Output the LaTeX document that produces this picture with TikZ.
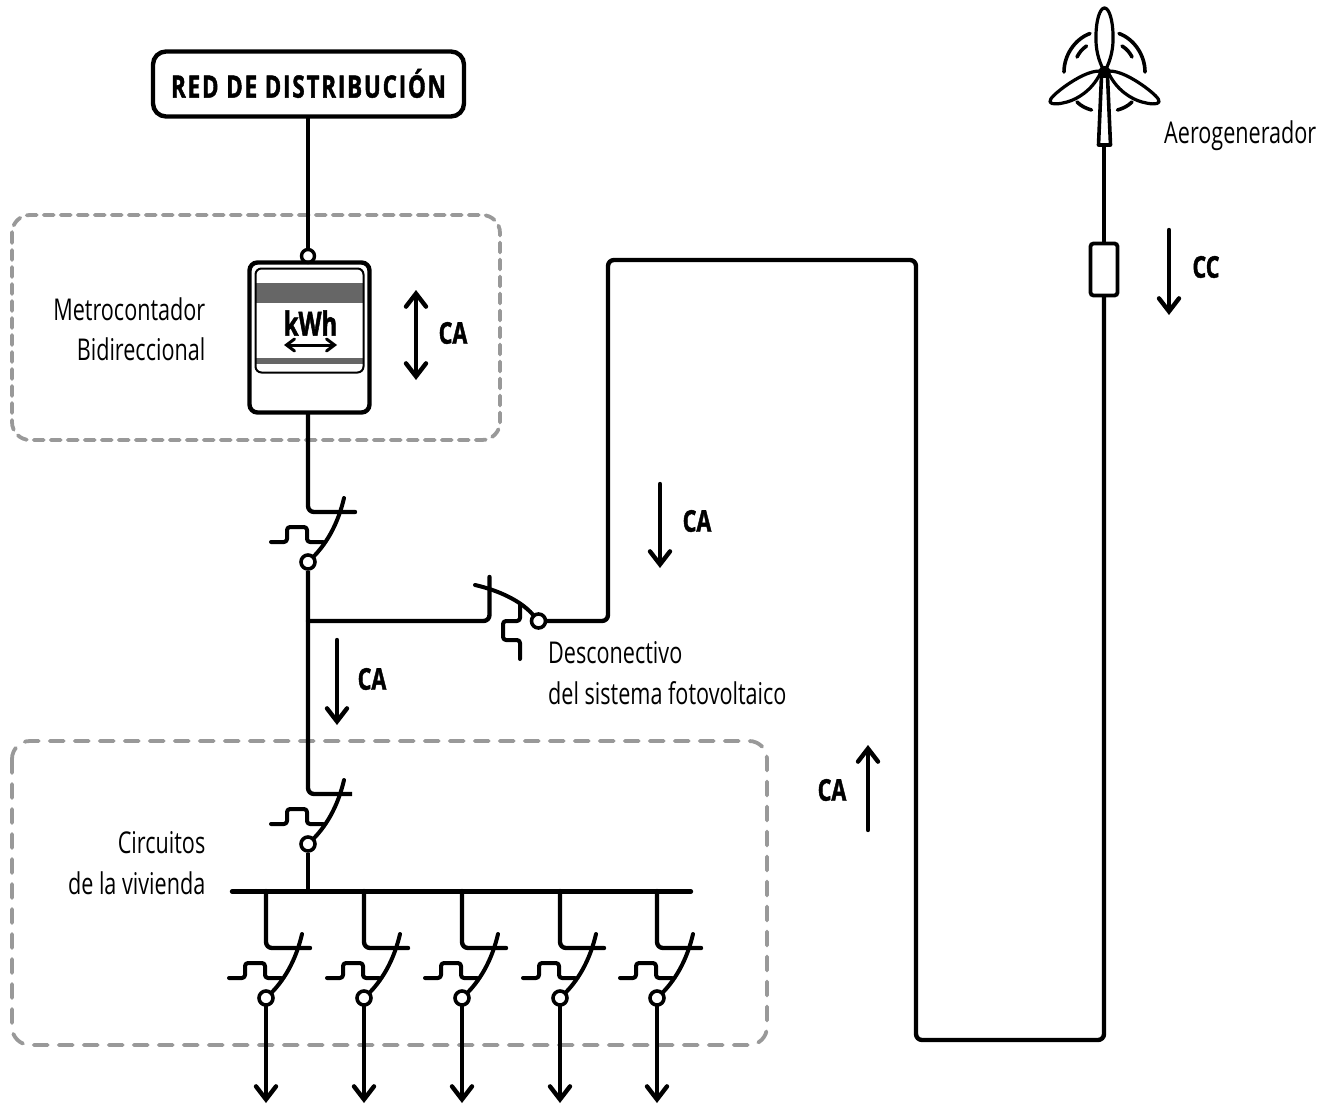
\documentclass[tikz,border=0pt]{standalone}
\usepackage{fontspec}
\setmainfont{Open Sans}[FakeStretch=0.72,BoldFeatures={FakeBold=1.4}]
\usetikzlibrary{arrows.meta}
\definecolor{dashgray}{HTML}{999999}
\definecolor{bandgray}{HTML}{666666}
\tikzset{
  wire/.style={line width=4.4pt,line join=round,line cap=round,rounded corners=6pt},
  arrowline/.style={line width=4.4pt,line cap=round,-{Straight Barb[length=13pt,width=20pt,line cap=round,line width=4.4pt]}},
  duoarrow/.style={line width=4.4pt,line cap=round,{Straight Barb[length=13pt,width=20pt,line cap=round,line width=4.4pt]}-{Straight Barb[length=13pt,width=20pt,line cap=round,line width=4.4pt]}},
  zonebox/.style={draw=dashgray,line width=3.8pt,rounded corners=18pt,line cap=round},
  term/.style={circle,draw,line width=3.6pt,fill=white,minimum size=14pt,inner sep=0pt},
  lbl/.style={font=\fontsize{30}{32}\selectfont,inner sep=0pt},
  flow/.style={font=\fontsize{30}{32}\selectfont\bfseries,inner sep=0pt},
  breaker/.pic={
    \coordinate (-in) at (0,-50);
    \coordinate (-bar) at (44,-50);
    \coordinate (-end) at (36,-64);
    \draw[line width=4pt,line cap=round] (-end) .. controls (30,-38) and (18,-16) .. (0,0);
    \draw[line width=4pt,line cap=round,line join=round,rounded corners=3pt] (-37,-20) -- (-21,-20) -- (-21,-35) -- (-1,-35) -- (-1,-20) -- (15,-20);
    \node[term] (-c) at (0,0) {};
  }
}
\begin{document}
\begin{tikzpicture}[x=1pt,y=-1pt]
\useasboundingbox (0,0) rectangle (1331,1105);
% zones
\draw[zonebox,dash pattern=on 10pt off 7pt] (12,215) rectangle (500,440);
\draw[zonebox,dash pattern=on 14pt off 11pt] (12,741) rectangle (767,1045);
% top box
\node[draw,line width=4.4pt,rounded corners=13pt,minimum width=311pt,minimum height=65pt,inner sep=0pt,font=\fontsize{31}{32}\selectfont\bfseries\addfontfeature{LetterSpace=6}] (red) at (308.5,84) {\raisebox{1.5pt}{RED DE DISTRIBUCIÓN}};
% meter
\node[term,minimum size=13pt,line width=3.4pt] (mtop) at (308,256) {};
\node[draw,line width=4.4pt,rounded corners=8pt,minimum width=120pt,minimum height=150pt,inner sep=0pt] (meter) at (309.5,337.5) {};
\fill[bandgray] (256,283) rectangle (363,303);
\fill[bandgray] (256,358) rectangle (363,364);
\node[draw,line width=2pt,rounded corners=6pt,minimum width=108pt,minimum height=104pt,inner sep=0pt] (screen) at (309.5,320.5) {};
\node[flow,font=\fontsize{33}{34}\selectfont\bfseries] (kwh) at (310.5,323) {kWh};
\coordinate (kl) at (284,345);
\coordinate (kr) at (337,345);
\draw[line width=3pt,line cap=round,{Straight Barb[length=8pt,width=12pt,line cap=round,line width=3pt]}-{Straight Barb[length=8pt,width=12pt,line cap=round,line width=3pt]}] (kl) -- (kr);
\draw[wire] (red.south -| mtop) -- (mtop.north);
% breakers
\pic (b1) at (308,562) {breaker};
\pic (b2) at (308,844) {breaker};
\pic (s1) at (266,998) {breaker};
\pic (s2) at (364,998) {breaker};
\pic (s3) at (462,998) {breaker};
\pic (s4) at (560,998) {breaker};
\pic (s5) at (657,998) {breaker};
\coordinate (b1x) at (355,512);
\draw[wire] (meter.south -| b1-c) -- (b1-in) -- (b1x);
\coordinate (tee) at (308,621);
\draw[wire,line cap=butt] (b1-c.south) -- (tee) -- (b2-in) -- (b2-bar);
\draw[wire,line cap=butt] (b2-c.south) -- (308,891);
% bus
\coordinate (busL) at (232,891.5);
\coordinate (busR) at (691,891.5);
\draw[wire] (busL) -- (busR);
\foreach \n/\x in {s1/266,s2/364,s3/462,s4/560,s5/657}{
  \draw[wire] (\x,891) -- (\n-in) -- (\n-bar);
  \coordinate (\n-out) at (\x,1103);
  \draw[arrowline] (\n-c.south) -- (\n-out);
}
% PV disconnector
\node[term] (dc) at (538.5,621) {};
\coordinate (dtick) at (489.5,577);
\coordinate (darc) at (475,585);
\draw[line width=4pt,line cap=round] (darc) .. controls (497,590) and (520,600) .. (dc);
\draw[wire] (tee) -- (489.5,621) -- (dtick);
\draw[line width=4pt,line cap=round,line join=round,rounded corners=3pt] (520,604) -- (520,621) -- (503,621) -- (503,640) -- (520,640) -- (520,659);
% long run
\node[draw,line width=3.8pt,rounded corners=3pt,fill=white,minimum width=27pt,minimum height=52pt,inner sep=0pt] (fuse) at (1104,269.5) {};
\coordinate (towerb) at (1104,146);
\draw[wire] (dc.east) -- (608,621) -- (608,260) -- (916,260) -- (916,1040) -- (1104,1040) -- (fuse.south);
\draw[wire] (fuse.north) -- (towerb);
% turbine
\coordinate (hub) at (1104.5,72);
\draw[line width=3.6pt,line join=round,fill=white] (1098.5,145) -- (1110.5,145) -- (1107.5,76) -- (1101.5,76) -- cycle;
\draw[line width=3.2pt,line join=round] (hub) .. controls (1098,60) and (1095.5,48) .. (1096,36) .. controls (1096,20) and (1100,8) .. (1104.5,8) .. controls (1109,8) and (1113,20) .. (1113,36) .. controls (1113.5,48) and (1111,60) .. cycle;
\draw[line width=3.2pt,line join=round] (1100,71) .. controls (1090,71) and (1078,77) .. (1064,87) .. controls (1056,93) and (1049,99) .. (1050,102) .. controls (1051,105) and (1060,104) .. (1067,102) .. controls (1078,99) and (1092,90) .. (1100,74) -- cycle;
\draw[line width=3.2pt,line join=round] (1109,71) .. controls (1119,71) and (1131,77) .. (1145,87) .. controls (1153,93) and (1160,99) .. (1159,102) .. controls (1158,105) and (1149,104) .. (1142,102) .. controls (1131,99) and (1117,90) .. (1109,74) -- cycle;
\fill (hub) circle (6pt);
\begin{scope}[line width=3.6pt,line cap=round]
\draw (1090,33.5) .. controls (1075,39) and (1064,55) .. (1064,72);
\draw (1119,33.5) .. controls (1134,39) and (1145,55) .. (1145,72);
\draw (1086.5,46) .. controls (1082,49) and (1079,53) .. (1077,57);
\draw (1122,46) .. controls (1127,49) and (1130,53) .. (1132,57);
\draw (1077,102) .. controls (1081,106) and (1086,108.5) .. (1091.5,110);
\draw (1132,102) .. controls (1128,106) and (1123,108.5) .. (1117.5,110);
\end{scope}
% flow arrows
\coordinate (a1t) at (416,290); \coordinate (a1b) at (416,380);
\draw[duoarrow] (a1t) -- (a1b);
\coordinate (a2t) at (337,640); \coordinate (a2b) at (337,725);
\draw[arrowline] (a2t) -- (a2b);
\coordinate (a3t) at (660,484); \coordinate (a3b) at (660,568);
\draw[arrowline] (a3t) -- (a3b);
\coordinate (a4t) at (868,745); \coordinate (a4b) at (868,830);
\draw[arrowline] (a4b) -- (a4t);
\coordinate (a5t) at (1169,230); \coordinate (a5b) at (1169,315);
\draw[arrowline] (a5t) -- (a5b);
\node[flow] (ca1) at (453,333) {CA};
\node[flow] (ca2) at (372,679) {CA};
\node[flow] (ca3) at (697,521) {CA};
\node[flow] (ca4) at (832,790) {CA};
\node[flow] (cc1) at (1206,267) {CC};
% labels
\node[lbl,anchor=east] (m1) at (205.5,309) {Metrocontador};
\node[lbl,anchor=east] (m2) at (205.5,349) {Bidireccional};
\node[lbl,anchor=east] (c1) at (205.5,843) {Circuitos};
\node[lbl,anchor=east] (c2) at (205.5,883) {de la vivienda};
\node[lbl,anchor=west] (d1) at (548,653) {Desconectivo};
\node[lbl,anchor=west] (d2) at (548,693) {del sistema fotovoltaico};
\node[lbl,anchor=west] (ae) at (1164,136) {Aerogenerador};
\end{tikzpicture}
\end{document}
